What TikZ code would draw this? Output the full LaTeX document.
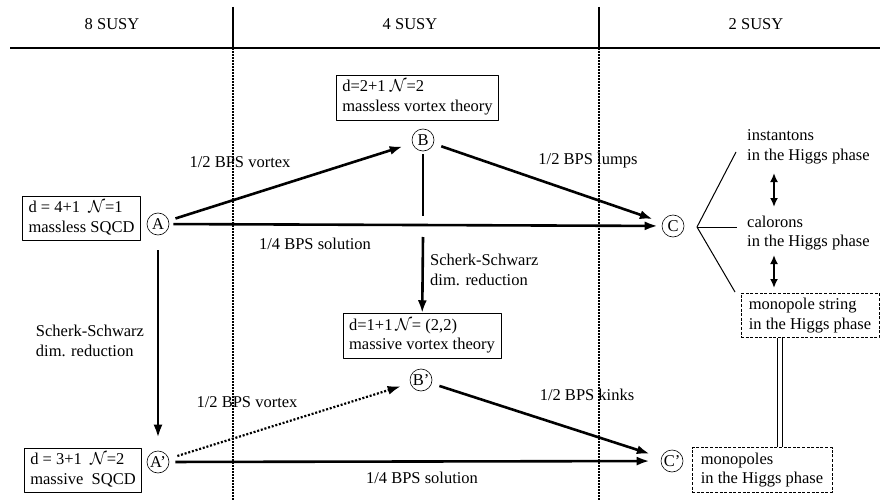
\documentclass[tikz,border=0pt]{standalone}
\usepackage{fontspec}
\setmainfont{Liberation Serif}
\usetikzlibrary{arrows.meta}

\begin{document}
\begin{tikzpicture}[x=1pt, y=-1pt, font=\fontsize{16.5}{19.5}\selectfont, line join=round,
		>={Latex[length=13pt,width=9pt]},
		pt/.style={draw, circle, line width=0.6pt, minimum size=22pt, inner sep=0pt},
		theory/.style={draw, line width=0.6pt, align=left, inner xsep=6pt, inner ysep=5pt},
		phase/.style={align=left, inner sep=4pt},
		border/.style={dash pattern=on 3pt off 1.6pt, line width=1pt},
		flow/.style={->, line width=2.6pt},
		sep/.style={line width=1.1pt, dash pattern=on 2pt off 1pt}]
	
	\useasboundingbox (0,0) rectangle (880,500);
	
	% header
	\node (s8) at (112,24) {8 SUSY};
	\node (s4) at (410,24) {4 SUSY};
	\node (s2) at (756,24) {2 SUSY};
	\draw[line width=2.6pt] (10,48) -- (880,48);
	\draw[line width=1.1pt] (233,7) -- (233,48);
	\draw[line width=1.1pt] (599,7) -- (599,48);
	
	% theories
	\node[pt] (A) at (158,224) {A};
	\node[pt] (B) at (423,140) {B};
	\node[pt] (C) at (673,226) {C};
	\node[pt] (Ap) at (158,462) {A'};
	\node[pt] (Bp) at (421,380) {B'};
	\node[pt] (Cp) at (672,461) {C'};
	
	\node[theory] (Abox) at (81.5,218) {d = 4+1\ \ $\mathcal{N}$=1\\massless SQCD};
	\node[theory] (Apbox) at (83,470) {d = 3+1\ \ $\mathcal{N}$=2\\massive\ \ SQCD};
	\node[theory] (Bbox) at (417.5,97.5) {d=2+1 $\mathcal{N}$=2\\massless vortex theory};
	\node[theory] (Bpbox) at (422,336) {d=1+1\,$\mathcal{N}$= (2,2)\\massive vortex theory};
	
	% solitons
	\node[phase, anchor=west] (inst) at (743,147) {instantons\\in the Higgs phase};
	\node[phase, anchor=west] (cal) at (743,233) {calorons\\in the Higgs phase};
	\node[theory, border, minimum width=138pt] (mstr) at (810,315.5) {monopole string\\in the Higgs phase};
	\node[theory, border, minimum width=140pt] (mono) at (762,470) {monopoles\\in the Higgs phase};
	
	% labels
	\node (lvortex) at (240,162) {1/2 BPS vortex};
	\node (llumps) at (588,161) {1/2 BPS lumps};
	\node (lsol) at (315,244) {1/4 BPS solution};
	\node[phase, anchor=west] (lssB) at (426,270) {Scherk-Schwarz\\dim. reduction};
	\node[phase] (lssA) at (90,341) {Scherk-Schwarz\\dim. reduction};
	\node (lvortexp) at (247,402) {1/2 BPS vortex};
	\node (lkinks) at (587,395) {1/2 BPS kinks};
	\node (lsolp) at (422,478) {1/4 BPS solution};
	
	\draw[sep] (233,48) -- (233,500);
	\draw[sep] (599,48) -- (599,500);
	
	% arrows
	\coordinate (Bgap1) at (423,216);
	\coordinate (Bgap2) at (423,237);
	\draw[flow, shorten <=7pt, shorten >=10pt] (A) -- (B);
	\draw[flow, shorten <=4pt, shorten >=4pt] (A) -- (C);
	\draw[flow, shorten <=8pt, shorten >=10pt] (B) -- (C);
	\draw[line width=2.6pt, shorten <=3pt] (B) -- (Bgap1);
	\draw[flow] (Bgap2) -- (Bpbox);
	\draw[flow, shorten <=15pt, shorten >=13pt] (A) -- (Ap);
	\draw[flow, line width=2.2pt, dash pattern=on 2pt off 1.8pt, shorten <=9pt, shorten >=10pt] (Ap) -- (Bp);
	\draw[flow, shorten <=6pt, shorten >=11pt] (Ap) -- (Cp);
	\draw[flow, shorten <=8pt, shorten >=12pt] (Bp) -- (Cp);
	
	% C fan
	\coordinate (Cfan) at (697,227);
	\coordinate (Cup) at (736,152);
	\coordinate (Cmid) at (737,227);
	\coordinate (Cdown) at (735,292);
	\draw[line width=1pt] (Cup) -- (Cfan) -- (Cdown);
	\draw[line width=1pt] (Cfan) -- (Cmid);
	
	\coordinate (i1) at (774,173);
	\coordinate (i2) at (774,207);
	\coordinate (c1) at (774,255);
	\coordinate (c2) at (774,288);
	\draw[<->, line width=2pt, >={Latex[length=9pt,width=8pt]}] (i1) -- (i2);
	\draw[<->, line width=2pt, >={Latex[length=9pt,width=8pt]}] (c1) -- (c2);
	\draw[double, double distance=3.6pt, line width=0.9pt] ([xshift=-30pt]mstr.south) -- ([xshift=-30pt]mstr.south |- mono.north);
\end{tikzpicture}
\end{document}
